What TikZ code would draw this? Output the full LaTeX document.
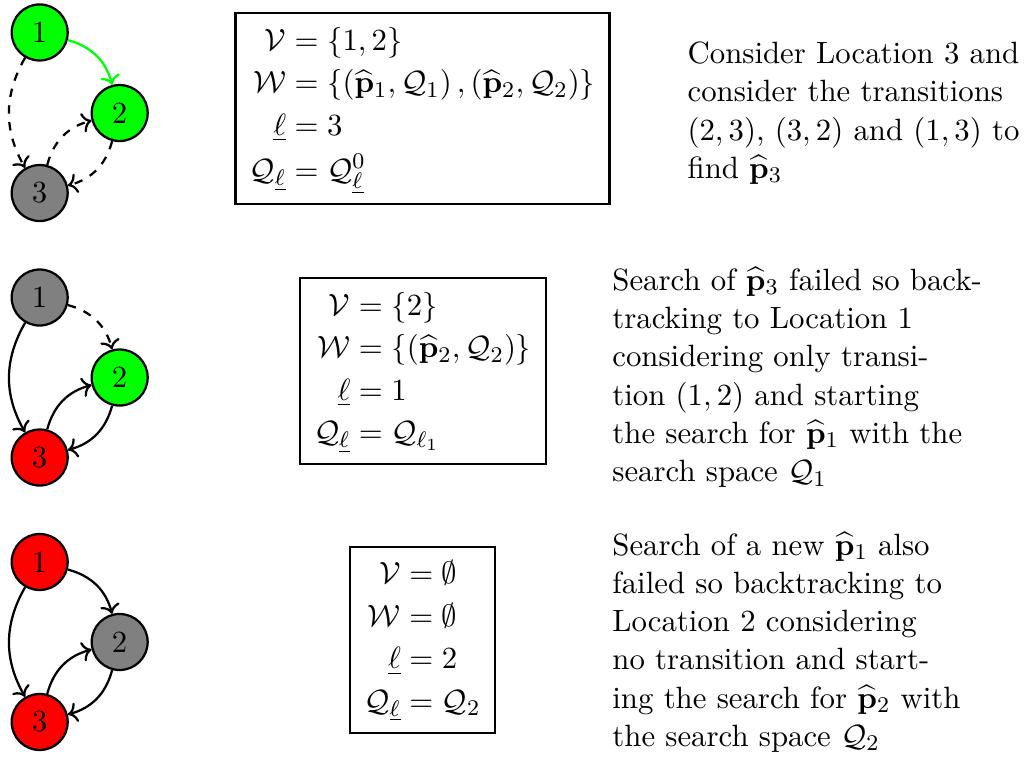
\documentclass[tikz,border=0pt,11pt]{standalone}
\usepackage{amsmath}
\usetikzlibrary{arrows.meta}
\newcommand{\phat}[1]{\widehat{\mathbf{p}}_{#1}}

\begin{document}
\begin{tikzpicture}[
  loc/.style={circle,draw,thick,minimum size=0.7cm,inner sep=0pt},
  trans/.style={->,thick},
  setbox/.style={draw,thick,inner xsep=5.1pt,
    execute at begin node={\setlength{\jot}{1.5pt}}},
  note/.style={anchor=west,align=left}]
\useasboundingbox (0,0) rectangle (12.875,-9.475);

% first step: search of p3
\node[loc,fill=green] (a1) at (0.496,-0.406) {1};
\node[loc,fill=green] (a2) at (1.496,-1.413) {2};
\node[loc,fill=gray] (a3) at (0.496,-2.413) {3};
\draw[trans,green] (a1) to[bend left] (a2);
\draw[trans,dashed] (a1) to[bend right] (a3);
\draw[trans,dashed] (a3) to[bend left] (a2);
\draw[trans,dashed] (a2) to[bend left] (a3);
\node[setbox] (s1) at (5.281,-1.356) {$\begin{aligned}
  \mathcal{V} &= \{1,2\}\\
  \mathcal{W} &= \{\left(\phat{1},\mathcal{Q}_1\right),\left(\phat{2},\mathcal{Q}_2\right)\}\\
  \underline{\ell} &= 3\\
  \mathcal{Q}_{\underline{\ell}} &= \mathcal{Q}^0_{\underline{\ell}}
\end{aligned}$};
\node[note] (t1) at (8.46,-1.413) {Consider Location 3 and\\
  consider the transitions\\
  $(2,3)$, $(3,2)$ and $(1,3)$ to\\
  find $\phat{3}$};

% second step: backtracking to 1
\node[loc,fill=gray] (b1) at (0.496,-3.719) {1};
\node[loc,fill=green] (b2) at (1.496,-4.719) {2};
\node[loc,fill=red] (b3) at (0.496,-5.719) {3};
\draw[trans,dashed] (b1) to[bend left] (b2);
\draw[trans] (b1) to[bend right] (b3);
\draw[trans] (b3) to[bend left] (b2);
\draw[trans] (b2) to[bend left] (b3);
\node[setbox] (s2) at (5.284,-4.64) {$\begin{aligned}
  \mathcal{V} &= \{2\}\\
  \mathcal{W} &= \{\left(\phat{2},\mathcal{Q}_2\right)\}\\
  \underline{\ell} &= 1\\
  \mathcal{Q}_{\underline{\ell}} &= \mathcal{Q}_{\ell_1}
\end{aligned}$};
\node[note] (t2) at (7.52,-4.72) {Search of $\phat{3}$ failed so back-\\
  tracking to Location 1\\
  considering only transi-\\
  tion $(1,2)$ and starting\\
  the search for $\phat{1}$ with the\\
  search space $\mathcal{Q}_1$};

% third step: backtracking to 2
\node[loc,fill=red] (c1) at (0.496,-7.025) {1};
\node[loc,fill=gray] (c2) at (1.496,-8.025) {2};
\node[loc,fill=red] (c3) at (0.496,-9.025) {3};
\draw[trans] (c1) to[bend left] (c2);
\draw[trans] (c1) to[bend right] (c3);
\draw[trans] (c3) to[bend left] (c2);
\draw[trans] (c2) to[bend left] (c3);
\node[setbox] (s3) at (5.281,-8.0) {$\begin{aligned}
  \mathcal{V} &= \emptyset\\
  \mathcal{W} &= \emptyset\\
  \underline{\ell} &= 2\\
  \mathcal{Q}_{\underline{\ell}} &= \mathcal{Q}_2
\end{aligned}$};
\node[note] (t3) at (7.52,-8.03) {Search of a new $\phat{1}$ also\\
  failed so backtracking to\\
  Location 2 considering\\
  no transition and start-\\
  ing the search for $\phat{2}$ with\\
  the search space $\mathcal{Q}_2$};
\end{tikzpicture}
\end{document}
